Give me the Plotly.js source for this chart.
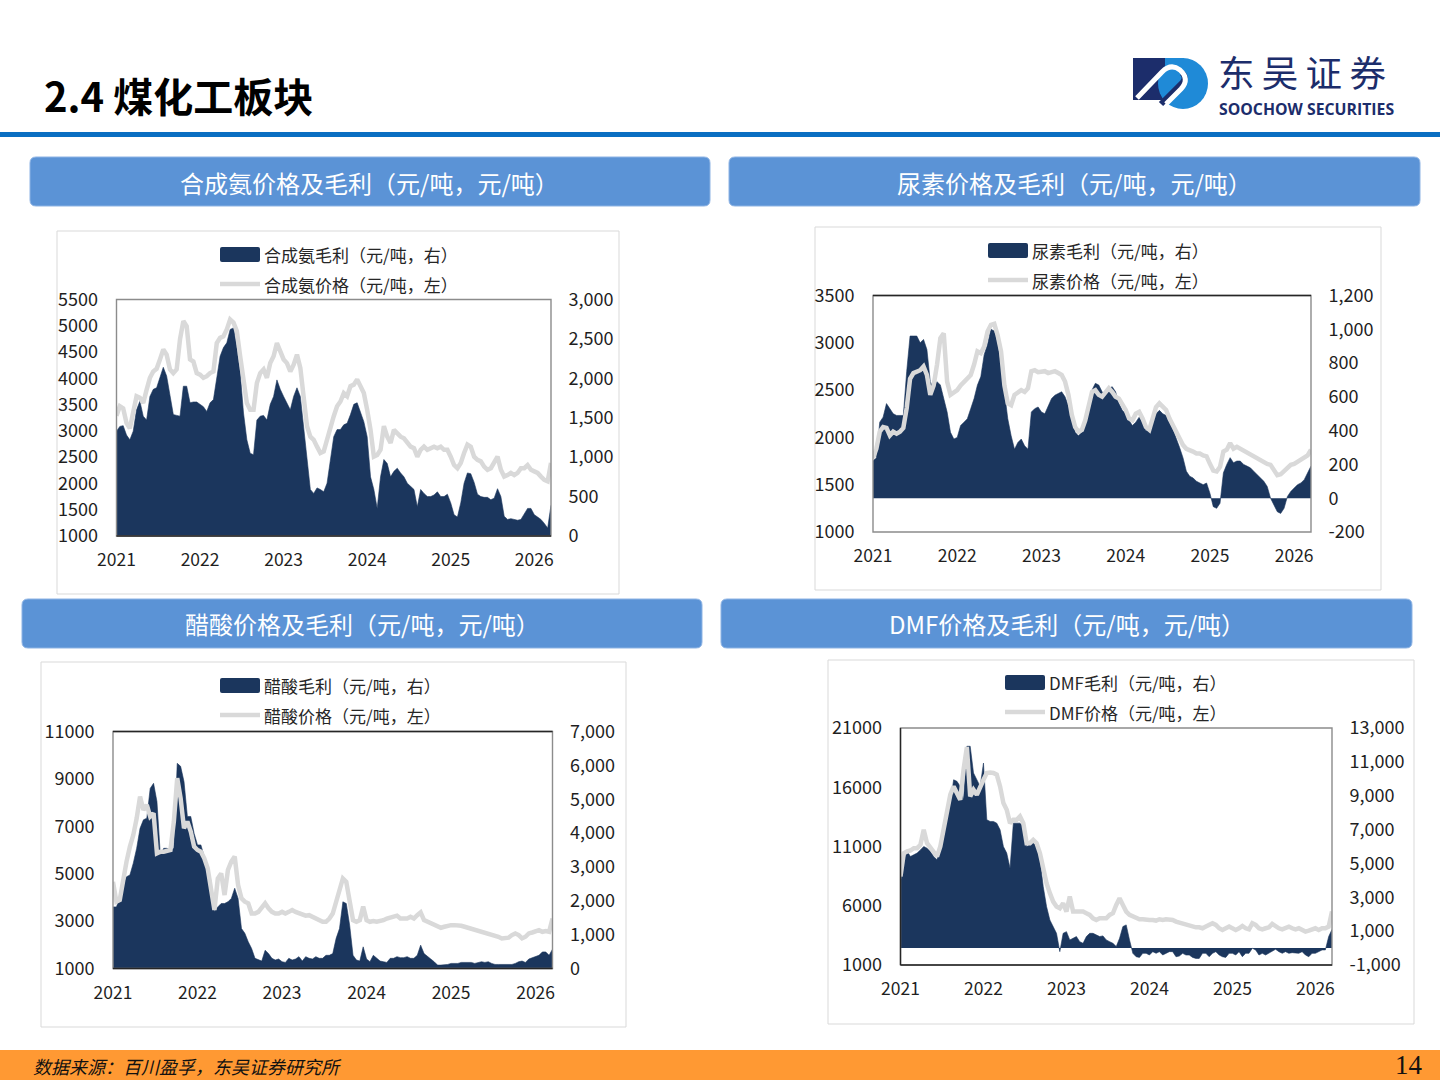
<!DOCTYPE html>
<html>
<head>
<meta charset="utf-8">
<title>2.4 煤化工板块</title>
<script src="https://cdn.plot.ly/plotly-3.0.1.min.js"></script>
<style>
  html, body { margin: 0; padding: 0; background: #ffffff; }
  #slide { width: 1440px; height: 1080px; }
</style>
</head>
<body>
<div id="slide"></div>
<script>
// ---- time axis: fortnightly steps (0.04 yr) from Jan 2021 to Mar 2026 ----
function yearGrid(n) {
  const t = [];
  for (let k = 0; k < n; k++) t.push(+(2021 + 0.04 * k).toFixed(2));
  return t;
}
const weeks = yearGrid(131);
const yearTicks = [2021, 2022, 2023, 2024, 2025, 2026];
const yearLabels = ['2021', '2022', '2023', '2024', '2025', '2026'];

// ---- 合成氨 ----
const ammoniaMargin = [
  1330,1390,1400,1280,1220,1330,1600,1710,1520,1470,
  1770,1860,1880,2020,2140,2030,1790,1540,1530,1520,
  1900,1900,1690,1700,1700,1670,1640,1580,1690,1730,
  2030,2280,2390,2450,2620,2640,2390,2070,1560,1220,
  1050,1030,1470,1520,1530,1470,1670,1770,1980,1860,
  1770,1690,1600,1770,1880,1770,1350,920,590,540,
  610,590,560,670,950,1260,1350,1350,1410,1430,
  1540,1670,1690,1560,1450,1260,750,590,350,750,
  970,920,750,820,860,800,750,670,630,590,
  370,590,540,500,500,520,560,500,500,530,
  420,270,240,420,670,800,790,680,530,500,
  490,490,460,480,600,500,250,210,220,210,
  200,210,280,350,350,270,240,210,160,100,
  390];
const ammoniaPrice = [
  3290,3470,3430,3150,3050,3400,3660,3630,3530,3780,
  4010,4130,4180,4360,4550,4450,4170,4100,4170,4740,
  5090,4990,4360,4320,4100,4070,4010,4040,4100,4130,
  4670,4770,4800,4930,5120,5060,4900,4420,3980,3530,
  3400,3400,3910,4100,4170,4010,4290,4420,4670,4520,
  4360,4290,4130,4260,4450,4200,3720,3090,2890,2830,
  2700,2580,2610,2860,3090,3280,3470,3560,3720,3660,
  3850,3880,3980,3850,3720,3400,3020,2510,2540,2640,
  3090,2890,2770,3020,2960,2890,2860,2770,2700,2670,
  2510,2640,2700,2640,2670,2700,2670,2700,2640,2640,
  2510,2350,2290,2390,2580,2740,2700,2510,2450,2420,
  2320,2260,2290,2390,2510,2260,2130,2160,2200,2160,
  2200,2290,2290,2350,2260,2230,2200,2130,2070,2040,
  2390];
const ammoniaLeftTicks = [1000,1500,2000,2500,3000,3500,4000,4500,5000,5500];
const ammoniaRightTicks = [0,500,1000,1500,2000,2500,3000];

// ---- 尿素 ----
const ureaMargin = [
  220,240,450,480,560,530,500,490,490,490,
  750,960,960,960,920,940,880,690,650,690,
  670,590,510,390,350,360,430,450,470,530,
  590,670,720,850,910,1000,990,920,790,630,
  470,370,290,330,350,310,290,510,530,540,
  510,500,550,590,610,620,630,600,550,490,
  390,370,390,450,550,640,680,670,630,
  610,650,660,630,560,520,500,460,430,450,
  480,450,400,400,480,500,520,500,490,460,
  410,350,300,240,160,130,120,100,90,80,
  90,30,-50,-60,-30,150,200,240,210,220,
  220,200,190,180,160,140,120,100,70,0,
  -40,-80,-90,-60,10,40,60,80,90,110,
  150,190];
const ureaPrice = [
  1780,1880,2060,2110,2100,2020,2060,2040,2060,2100,
  2310,2620,2680,2700,2710,2750,2660,2450,2550,2770,
  3050,3100,2590,2450,2480,2500,2550,2590,2620,2660,
  2770,2910,2890,2960,3120,3190,3200,3080,2910,2550,
  2360,2340,2450,2480,2500,2480,2520,2700,2710,2690,
  2690,2700,2680,2690,2700,2680,2660,2590,2450,2240,
  2110,2060,2080,2180,2340,2480,2500,2450,2430,
  2480,2520,2480,2430,2410,2360,2290,2200,2180,2250,
  2270,2200,2110,2080,2200,2320,2360,2320,2290,2200,
  2130,2060,1970,1920,1880,1870,1850,1830,1830,1810,
  1800,1720,1650,1640,1690,1850,1870,1940,1880,1900,
  1880,1850,1830,1810,1800,1780,1760,1740,1720,1710,
  1650,1600,1610,1640,1680,1710,1720,1740,1760,1780,
  1810,1870];
const ureaLeftTicks = [1000,1500,2000,2500,3000,3500];
const ureaRightTicks = [-200,0,200,400,600,800,1000,1200];

// ---- 醋酸 ----
const aceticMargin = [
  1820,1820,2070,2470,2710,2760,3110,3550,4140,4390,
  4440,5320,5470,4930,3350,3550,3550,3500,3550,6060,
  5970,5520,4490,4490,3990,3650,3650,3300,3060,2560,
  1680,1820,1920,1920,1970,2070,2370,2070,1180,1040,
  790,590,300,250,220,540,440,300,250,280,
  200,180,300,250,280,350,220,350,300,280,
  350,300,300,390,390,440,890,1180,1970,1920,
  1280,390,250,220,640,280,200,390,
  300,220,200,180,300,300,350,320,320,350,300,
  300,390,690,440,350,280,200,100,100,100,
  120,150,150,150,180,180,180,180,150,180,
  200,180,200,150,120,120,120,120,120,120,
  150,200,220,180,280,320,350,390,490,490,390,
  570];
const aceticPrice = [
  4660,3820,3890,4800,5510,6140,6630,7340,8250,7690,
  7900,7410,7550,5860,5930,5930,5960,6000,7200,9030,
  8180,6920,7200,6780,6140,6000,5930,5650,5230,4380,
  3470,4800,5010,4100,5160,5510,5720,4520,3960,3820,
  3750,3320,3320,3390,3540,3750,3540,3390,3320,3320,
  3390,3320,3390,3470,3390,3320,3250,3230,3250,3180,
  3110,3040,2970,2970,3110,3320,3820,4380,4800,4660,
  3820,3040,2970,3040,3610,3040,2970,3000,
  2970,3000,3040,3110,3140,3180,3230,3110,3090,3110,3180,
  3110,3250,3370,3040,2970,2900,2830,2760,2720,2760,
  2800,2830,2830,2830,2800,2760,2720,2690,2620,2580,
  2550,2520,2480,2440,2380,2340,2270,2270,2300,2410,
  2480,2410,2270,2340,2480,2520,2580,2620,2550,2580,2550,
  3110];
const aceticLeftTicks = [1000,3000,5000,7000,9000,11000];
const aceticRightTicks = [0,1000,2000,3000,4000,5000,6000,7000];

// ---- DMF ----
const dmfMargin = [
  3830,5210,5700,5410,5510,5610,5800,6000,5900,5700,
  5410,5210,6000,6790,7780,8560,9940,9850,9550,8760,
  11920,11920,10340,9940,9550,10930,7580,7480,7480,7380,
  6990,6000,5610,4720,7380,7380,7380,7180,6000,6100,
  6400,6200,5210,3630,2450,1660,1270,870,-210,870,
  970,480,580,680,380,280,680,870,870,780,
  680,720,480,380,280,90,580,1270,1370,480,
  -310,-510,-550,-310,-310,-410,-210,-310,-210,-410,
  -310,-210,-210,-510,-470,-310,-410,-410,-550,-610,
  -610,-310,-310,-510,-310,-210,-410,-510,-550,-310,
  -310,-410,-210,-510,-310,-310,-10,-110,-410,-310,
  -410,-310,-210,-70,-210,-310,-210,-310,-270,-310,
  -310,-210,-410,-510,-310,-310,-210,-110,-110,680,
  1100];
const dmfPrice = [
  8470,10440,10580,10660,10860,10860,11140,12410,11280,10860,
  10580,10160,11000,12410,13820,15370,16070,15510,14940,17500,
  19400,15230,15790,15370,16070,16630,17200,17250,17200,17060,
  16070,14660,14100,12970,13250,13250,13540,12970,11280,11280,
  11560,11280,10440,9030,7900,7060,6350,5930,5790,6210,
  5510,6780,5510,5510,5510,5510,5370,5230,4940,4800,
  4940,4940,4940,5230,5370,6070,6630,6070,5510,5230,
  5090,4940,4860,4860,4800,4800,4800,4750,4860,4800,
  4860,4860,4800,4660,4580,4520,4380,4300,4240,4180,
  4180,4100,4240,4380,4520,4380,4100,3960,4100,4240,
  4100,3960,4100,4300,4100,4010,4520,4380,4100,4010,
  4100,4180,4470,4240,4100,4010,4100,4240,4100,4010,
  4100,3960,3820,3900,4010,4100,3960,4100,4100,4240,
  5510];
const dmfLeftTicks = [1000,6000,11000,16000,21000];
const dmfRightTicks = [-1000,1000,3000,5000,7000,9000,11000,13000];

// ---- slide geometry & style ----
const W = 1440, H = 1080;
const px = x => x / W;
const py = y => 1 - y / H;
const FONT = '"Noto Sans CJK SC", "Microsoft YaHei", sans-serif';
const NAVY = '#1b365d';
const GREY_LINE = '#d9d9d9';
const BANNER = '#5b93d6';
const INK = '#1f1f1f';
const LOGO_NAVY = '#1c2d6b';
const LOGO_BLUE = '#1f8ad7';

const plain = v => String(v);
const comma = v => v.toLocaleString('en-US');

const panels = [
  { title: '合成氨价格及毛利（元/吨，元/吨）', banner: [30,157,710,206], card: [57,231,619,594],
    plot: [116.5,299.5,551,536], margin: ammoniaMargin, price: ammoniaPrice,
    names: ['合成氨毛利（元/吨，右）', '合成氨价格（元/吨，左）'],
    mRange: [0,3000], pRange: [1000,5500], mTicks: ammoniaRightTicks, pTicks: ammoniaLeftTicks,
    key: [220,247], dark: ['b'] },
  { title: '尿素价格及毛利（元/吨，元/吨）', banner: [729,157,1420,206], card: [815,227,1381,590],
    plot: [873,295.5,1311,532], margin: ureaMargin, price: ureaPrice,
    names: ['尿素毛利（元/吨，右）', '尿素价格（元/吨，左）'],
    mRange: [-200,1200], pRange: [1000,3500], mTicks: ureaRightTicks, pTicks: ureaLeftTicks,
    key: [988,243], dark: ['t'] },
  { title: '醋酸价格及毛利（元/吨，元/吨）', banner: [22,599,702,648], card: [41,662,626,1027],
    plot: [113,731.5,552.5,968.5], margin: aceticMargin, price: aceticPrice,
    names: ['醋酸毛利（元/吨，右）', '醋酸价格（元/吨，左）'],
    mRange: [0,7000], pRange: [1000,11000], mTicks: aceticRightTicks, pTicks: aceticLeftTicks,
    key: [220,678], dark: ['t','b'] },
  { title: 'DMF价格及毛利（元/吨，元/吨）', banner: [721,599,1412,648], card: [828,660,1414,1024],
    plot: [900.5,728,1332,965], margin: dmfMargin, price: dmfPrice,
    names: ['DMF毛利（元/吨，右）', 'DMF价格（元/吨，左）'],
    mRange: [-1000,13000], pRange: [1000,21000], mTicks: dmfRightTicks, pTicks: dmfLeftTicks,
    key: [1005,675], dark: ['l','b'] }
];

function P(x, y) { return px(x) + ',' + py(y); }
function roundRectPath(x0, y0, x1, y1, r) {
  return 'M' + P(x0 + r, y0) + ' L' + P(x1 - r, y0) + ' Q' + P(x1, y0) + ' ' + P(x1, y0 + r) +
         ' L' + P(x1, y1 - r) + ' Q' + P(x1, y1) + ' ' + P(x1 - r, y1) +
         ' L' + P(x0 + r, y1) + ' Q' + P(x0, y1) + ' ' + P(x0, y1 - r) +
         ' L' + P(x0, y0 + r) + ' Q' + P(x0, y0) + ' ' + P(x0 + r, y0) + ' Z';
}
function rect(x0, y0, x1, y1, fill, line, lw, layer) {
  return { type: 'rect', xref: 'paper', yref: 'paper', x0: px(x0), x1: px(x1), y0: py(y1), y1: py(y0),
           fillcolor: fill || 'rgba(0,0,0,0)', line: { color: line || 'rgba(0,0,0,0)', width: lw || 0 },
           layer: layer || 'above' };
}
function seg(x0, y0, x1, y1, color, w) {
  return { type: 'line', xref: 'paper', yref: 'paper', x0: px(x0), y0: py(y0), x1: px(x1), y1: py(y1),
           line: { color: color, width: w }, layer: 'above' };
}
function text(t, x, y, size, opt) {
  opt = opt || {};
  const a = { text: t, x: px(x), y: py(y), xref: 'paper', yref: 'paper', showarrow: false,
           xanchor: opt.anchor || 'left', yanchor: 'middle', borderpad: 0,
           font: { family: opt.family || FONT, size: size, color: opt.color || INK,
                   weight: opt.weight || 'normal', style: opt.style || 'normal' } };
  if (opt.height) { a.height = opt.height; a.valign = 'middle'; }
  return a;
}

const traces = [];
const shapes = [];
const annotations = [];
const layout = {
  width: W, height: H,
  margin: { l: 0, r: 0, t: 0, b: 0, pad: 0 },
  paper_bgcolor: '#ffffff', plot_bgcolor: 'rgba(0,0,0,0)',
  showlegend: false,
  font: { family: FONT, size: 18, color: INK },
  shapes: shapes, annotations: annotations
};

// ---- header ----
annotations.push(text('2.4 煤化工板块', 43, 95, 40, { weight: 'bold', color: '#000000' }));
shapes.push(rect(0, 132, 1440, 137, '#0a6fc2', null, 0));

// logo mark: navy block, blue disc, white S-shaped link
shapes.push(rect(1133, 58, 1165, 100, LOGO_NAVY, null, 0));
shapes.push({ type: 'circle', xref: 'paper', yref: 'paper', layer: 'above',
  x0: px(1158), x1: px(1208), y0: py(109), y1: py(58), fillcolor: LOGO_BLUE, line: { width: 0 } });
shapes.push(rect(1165, 58, 1184, 80, LOGO_BLUE, null, 0));
shapes.push({ type: 'path', xref: 'paper', yref: 'paper', layer: 'above',
  path: 'M' + P(1161, 104) + ' L' + P(1183, 82) + ' Q' + P(1187, 77) + ' ' + P(1182, 73),
  line: { color: LOGO_NAVY, width: 6 } });
shapes.push({ type: 'path', xref: 'paper', yref: 'paper', layer: 'above',
  path: 'M' + P(1137, 98) + ' L' + P(1162, 72) + ' Q' + P(1171, 63) + ' ' + P(1180, 70) +
        ' Q' + P(1190, 79) + ' ' + P(1181, 89) + ' L' + P(1166, 104),
  line: { color: '#ffffff', width: 5 } });
annotations.push(text('东\u2009吴\u2009证\u2009券', 1217, 71, 36.5, { color: LOGO_NAVY }));
annotations.push(text('SOOCHOW SECURITIES', 1218, 108.5, 15.8,
  { color: LOGO_NAVY, weight: 'bold', family: '"Open Sans", "DejaVu Sans", sans-serif' }));

// ---- footer ----
shapes.push(rect(0, 1050, 1440, 1080, '#ff9933', null, 0, 'below'));
annotations.push(text('数据来源：百川盈孚，东吴证券研究所', 32, 1066, 18, { style: 'italic', color: '#111111' }));
annotations.push(text('14', 1409, 1064.5, 27, { anchor: 'center', family: '"Liberation Serif", "DejaVu Serif", serif',
  color: '#111111', height: 28 }));

// ---- four panels ----
panels.forEach((p, i) => {
  const xName = i === 0 ? 'x' : 'x' + (i + 1);
  const mIdx = 2 * i + 1, pIdx = 2 * i + 2;
  const mName = mIdx === 1 ? 'y' : 'y' + mIdx;
  const pName = 'y' + pIdx;
  const [l, t, r, b] = p.plot;

  // banner + card
  shapes.push({ type: 'path', xref: 'paper', yref: 'paper', layer: 'below',
    path: roundRectPath(p.banner[0], p.banner[1], p.banner[2], p.banner[3], 6),
    fillcolor: BANNER, line: { color: '#8db3e4', width: 1 } });
  annotations.push(text(p.title, (p.banner[0] + p.banner[2]) / 2, (p.banner[1] + p.banner[3]) / 2 + 0.5, 24,
    { anchor: 'center', color: '#ffffff' }));
  shapes.push(rect(p.card[0], p.card[1], p.card[2], p.card[3], null, '#d9d9d9', 1, 'below'));

  // axes
  layout['xaxis' + (i === 0 ? '' : i + 1)] = {
    domain: [px(l), px(r)], anchor: mName, range: [2021, 2026.2],
    tickmode: 'array', tickvals: yearTicks, ticktext: yearLabels,
    ticks: 'outside', ticklen: 8, tickcolor: 'rgba(0,0,0,0)',
    tickfont: { family: FONT, size: 17.5, color: INK },
    showgrid: false, zeroline: false, showline: false, fixedrange: true
  };
  layout['yaxis' + (mIdx === 1 ? '' : mIdx)] = {
    domain: [py(b), py(t)], anchor: xName, side: 'right', range: p.mRange,
    tickmode: 'array', tickvals: p.mTicks, ticktext: p.mTicks.map(comma),
    ticks: 'outside', ticklen: 13, tickcolor: 'rgba(0,0,0,0)',
    tickfont: { family: FONT, size: 18, color: INK },
    showgrid: false, zeroline: false, showline: false, fixedrange: true
  };
  layout['yaxis' + pIdx] = {
    overlaying: mName, anchor: xName, side: 'left', range: p.pRange,
    tickmode: 'array', tickvals: p.pTicks, ticktext: p.pTicks.map(plain),
    ticks: 'outside', ticklen: 14, tickcolor: 'rgba(0,0,0,0)',
    tickfont: { family: FONT, size: 18, color: INK },
    showgrid: false, zeroline: false, showline: false, fixedrange: true
  };

  // margin area (right axis) under the price line (left axis)
  traces.push({ type: 'scatter', mode: 'lines', name: p.names[0], x: weeks, y: p.margin,
    xaxis: xName, yaxis: mName, fill: 'tozeroy', fillcolor: NAVY,
    line: { color: NAVY, width: 0.6 }, hoverinfo: 'skip' });
  traces.push({ type: 'scatter', mode: 'lines', name: p.names[1], x: weeks, y: p.price,
    xaxis: xName, yaxis: pName, line: { color: GREY_LINE, width: 4.5 }, hoverinfo: 'skip' });

  // plot frame
  shapes.push(rect(l, t, r, b, null, '#8c8c8c', 1.4));
  if (p.dark.includes('t')) shapes.push(seg(l, t, r, t, '#262626', 1.4));
  if (p.dark.includes('b')) shapes.push(seg(l, b, r, b, '#262626', 1.4));
  if (p.dark.includes('l')) shapes.push(seg(l, t, l, b, '#262626', 1.4));

  // key
  const [kx, ky] = p.key;
  shapes.push({ type: 'path', xref: 'paper', yref: 'paper', layer: 'above',
    path: roundRectPath(kx, ky, kx + 40, ky + 15, 2), fillcolor: NAVY, line: { width: 0 } });
  shapes.push(seg(kx, ky + 37, kx + 40, ky + 37, GREY_LINE, 4.5));
  annotations.push(text(p.names[0], kx + 43, ky + 7.5, 17, { color: '#262626' }));
  annotations.push(text(p.names[1], kx + 43, ky + 37, 17, { color: '#262626' }));
});

Plotly.newPlot('slide', traces, layout, { staticPlot: true, displayModeBar: false });
</script>
</body>
</html>
